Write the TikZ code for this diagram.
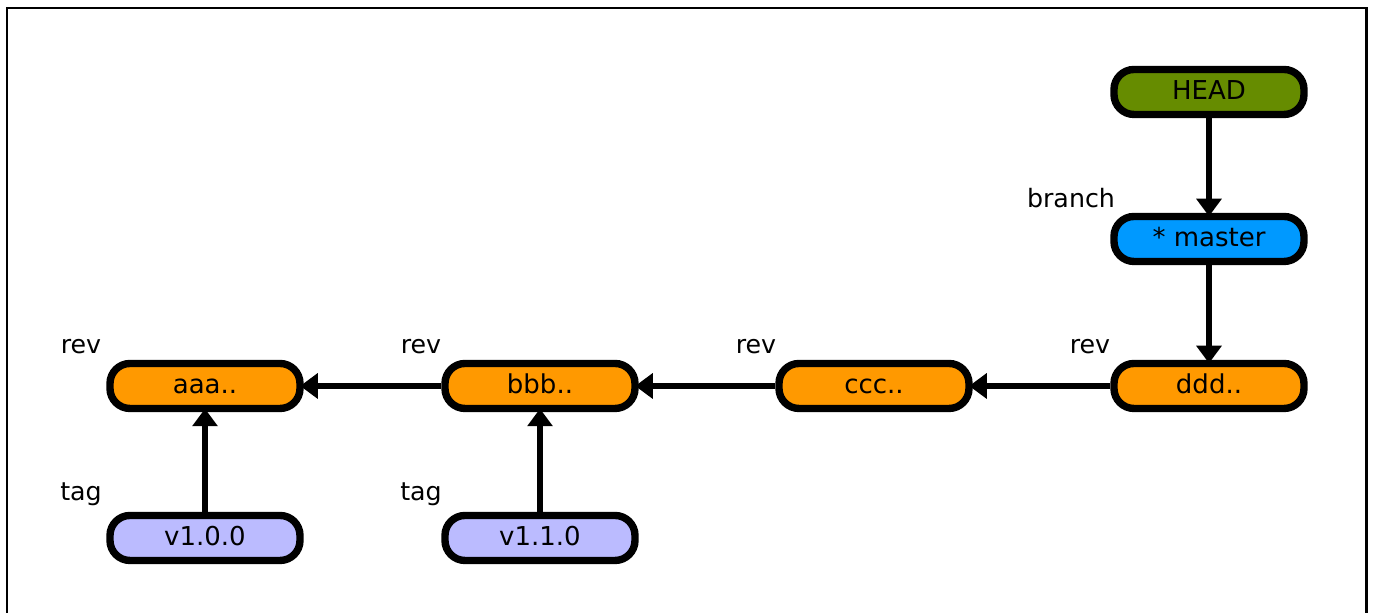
\documentclass[tikz,border=0pt]{standalone}
\usepackage{fontspec}
\setmainfont{DejaVu Sans}
\usetikzlibrary{arrows.meta}
\definecolor{headgreen}{RGB}{102,140,0}
\definecolor{branchblue}{RGB}{0,153,255}
\definecolor{revorange}{RGB}{255,153,0}
\definecolor{taglilac}{RGB}{187,187,255}
\tikzset{
  refbox/.style={draw, line width=2.1pt, rounded corners=0.2cm,
    minimum width=1.9cm, minimum height=0.45cm, inner sep=0pt,
    text height=4.5pt, text depth=0pt,
    font=\fontsize{7.4}{8}\selectfont},
  kindlabel/.style={font=\fontsize{7.2}{8}\selectfont, inner sep=0pt},
  link/.style={line width=1.9pt, shorten >=-1pt, -{Triangle[length=5pt,width=7pt]}}
}
\begin{document}
\begin{tikzpicture}
            \useasboundingbox (0,0) rectangle (13.73,6.13);
            \draw[line width=0.6pt] (0.07,-0.2) -- (0.07,6.05) -- (13.665,6.05) -- (13.665,-0.2);
            \node[refbox, fill=headgreen] (h) at (12.09, 5.21) {HEAD};
            \node[refbox, fill=branchblue] (b) at (12.09, 3.74) {* master};
            \node[refbox, fill=revorange] (r3) at (12.09, 2.27) {ddd..};
            \node[refbox, fill=revorange] (r2) at (8.74, 2.27) {ccc..};
            \node[refbox, fill=revorange] (r1) at (5.40, 2.27) {bbb..};
            \node[refbox, fill=revorange] (r0) at (2.05, 2.27) {aaa..};
            \node[refbox, fill=taglilac] (t0) at (2.05, 0.75) {v1.0.0};
            \node[refbox, fill=taglilac] (t1) at (5.40, 0.75) {v1.1.0};
            \node[kindlabel] (lb) at (10.71, 4.15) {branch};
            \node[kindlabel] (l3) at (10.90, 2.66) {rev};
            \node[kindlabel] (l2) at (7.56, 2.66) {rev};
            \node[kindlabel] (l1) at (4.21, 2.66) {rev};
            \node[kindlabel] (l0) at (0.81, 2.66) {rev};
            \node[kindlabel] (lt0) at (0.81, 1.19) {tag};
            \node[kindlabel] (lt1) at (4.21, 1.19) {tag};
            \draw[link] (h) -- (b);
            \draw[link] (b) -- (r3);
            \draw[link] (r3) -- (r2);
            \draw[link] (r2) -- (r1);
            \draw[link] (r1) -- (r0);
            \draw[link] (t0) -- (r0);
            \draw[link] (t1) -- (r1);
         \end{tikzpicture}
\end{document}
